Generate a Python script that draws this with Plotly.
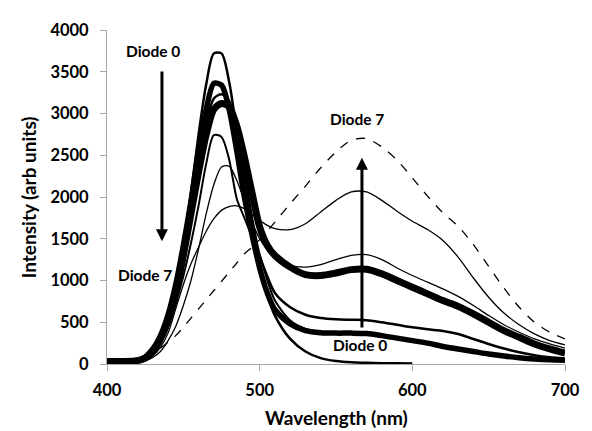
import plotly.graph_objects as go

# wavelength grid (nm) shared by all spectra
wl = [400, 410, 420, 425, 430, 435, 440, 445, 450, 455, 460, 465, 470, 475, 480,
      485, 490, 495, 500, 505, 510, 520, 530, 540, 550, 560, 570, 580, 590, 600,
      610, 620, 630, 640, 650, 660, 670, 680, 690, 700]

# intensities (arb units), diode 0 .. diode 7
d0 = [30, 30, 45, 80, 170, 330, 580, 950, 1450, 2050, 2750, 3350, 3720, 3720, 3380,
      2780, 2150, 1600, 1150, 820, 580, 300, 150, 70, 35, 20, 15, 10, 8, 5,
      None, None, None, None, None, None, None, None, None, None]
d1 = [30, 30, 45, 85, 180, 340, 590, 950, 1420, 1950, 2550, 3050, 3360, 3340, 3050,
      2550, 2000, 1550, 1150, 850, 650, 480, 400, 375, 370, 370, 365, 340, 310, 280,
      250, 210, 180, 150, 120, 95, 75, 60, 50, 45]
d2 = [30, 30, 45, 80, 170, 320, 560, 900, 1350, 1880, 2450, 2900, 3180, 3230, 3150,
      2850, 2300, 1750, 1300, 1050, 850, 680, 590, 550, 535, 530, 525, 500, 470, 440,
      415, 395, 360, 300, 240, 185, 140, 105, 80, 65]
d3 = [30, 30, 40, 70, 150, 300, 520, 850, 1300, 1800, 2300, 2750, 3050, 3120, 3080,
      2850, 2480, 2050, 1640, 1420, 1300, 1160, 1070, 1060, 1090, 1130, 1135, 1080, 1000, 920,
      840, 760, 690, 600, 500, 400, 320, 240, 180, 130]
d4 = [30, 30, 40, 70, 140, 260, 450, 720, 1050, 1450, 1900, 2400, 2740, 2720, 2450,
      1980, 1750, 1520, 1300, 1000, 760, 520, 420, 380, 365, 365, 360, 335, 305, 275,
      245, 205, 175, 145, 115, 90, 70, 55, 45, 40]
d5 = [25, 25, 30, 40, 80, 150, 280, 450, 700, 1000, 1380, 1800, 2150, 2360, 2370,
      2200, 1950, 1700, 1500, 1370, 1280, 1180, 1160, 1190, 1250, 1300, 1310, 1250, 1150, 1060,
      980, 900, 810, 700, 580, 470, 380, 300, 240, 190]
d6 = [25, 25, 30, 50, 100, 200, 370, 660, 950, 1200, 1400, 1590, 1740, 1840, 1885,
      1895, 1860, 1790, 1720, 1660, 1620, 1610, 1680, 1820, 1960, 2060, 2060, 1960, 1830, 1710,
      1610, 1480, 1280, 1030, 800, 610, 470, 360, 280, 230]
d7 = [None, None, None, None, None, 190, 260, 340, 440, 550, 660, 770, 880, 990, 1100,
      1210, 1320, 1400, 1490, 1590, 1700, 1920, 2130, 2350, 2540, 2680, 2700, 2600, 2440, 2230,
      2010, 1810, 1650, 1430, 1170, 910, 680, 500, 380, 300]

spectra = [d0, d1, d2, d3, d4, d5, d6, d7]
widths = [2.5, 5.5, 2.5, 7, 2, 1.3, 1.3, 1.3]
dashes = ["solid"] * 7 + ["dash"]

fig = go.Figure()
for ys, lw, ds in zip(spectra, widths, dashes):
    fig.add_trace(go.Scatter(x=wl, y=ys, mode="lines",
                             line=dict(color="black", width=lw, dash=ds, shape="spline", smoothing=0.8),
                             showlegend=False, hoverinfo="skip"))

lbl = dict(family="Lato", size=15.5, color="black", weight="bold")
axis_font = dict(family="Lato", size=16.5, color="black", weight="bold")
title_font = dict(family="Lato", size=19, color="black", weight="bold")

fig.add_annotation(x=430, y=3750, text="Diode 0", showarrow=False, font=lbl)
fig.add_annotation(x=425, y=1070, text="Diode 7", showarrow=False, font=lbl)
fig.add_annotation(x=564, y=2935, text="Diode 7", showarrow=False, font=lbl)
fig.add_annotation(x=566, y=225, text="Diode 0", showarrow=False, font=lbl)

# the two arrows
fig.add_annotation(x=436, y=1470, ax=436, ay=3520, axref="x", ayref="y",
                   showarrow=True, arrowhead=2, arrowsize=0.8, arrowwidth=3, arrowcolor="black", text="")
fig.add_annotation(x=567, y=2470, ax=567, ay=420, axref="x", ayref="y",
                   showarrow=True, arrowhead=2, arrowsize=0.8, arrowwidth=3, arrowcolor="black", text="")

# axis titles
fig.add_annotation(x=-0.172, y=0.5, xref="x domain", yref="y domain", text="Intensity (arb units)",
                   xanchor="center", yanchor="middle", textangle=-90, showarrow=False,
                   font=title_font)
fig.add_annotation(x=0.5, y=-0.16, xref="x domain", yref="y domain", text="Wavelength (nm)",
                   xanchor="center", yanchor="middle", showarrow=False,
                   font=title_font)

fig.update_xaxes(range=[400, 700], tickvals=[400, 500, 600, 700], showline=True,
                 linecolor="#A6A6A6", linewidth=1, ticks="outside", tickcolor="#A6A6A6",
                 ticklen=6, showgrid=False, zeroline=False, tickfont=axis_font,
                 ticklabelstandoff=5)
fig.update_yaxes(range=[0, 4000], dtick=500, showline=True, linecolor="#A6A6A6",
                 linewidth=1, ticks="outside", tickcolor="#A6A6A6", ticklen=6,
                 showgrid=False, zeroline=False, tickfont=axis_font, ticklabelstandoff=8)

# page body adds an 8 px margin, so the figure is 8 px smaller
fig.update_layout(width=584, height=423, margin=dict(l=99, r=21, t=13, b=67),
                  plot_bgcolor="white", paper_bgcolor="white")

fig.write_html("out.html")
